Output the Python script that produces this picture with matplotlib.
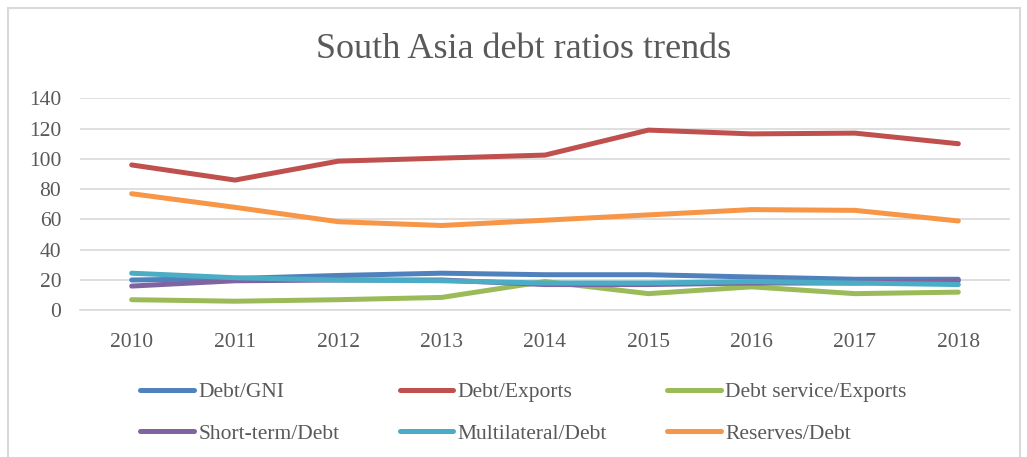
import matplotlib
matplotlib.use('Agg')
import matplotlib.pyplot as plt
from matplotlib.patches import Rectangle

# South Asia debt ratio series, 2010-2018
years = ['2010', '2011', '2012', '2013', '2014', '2015', '2016', '2017', '2018']
debt_gni = [20, 21, 23, 24.5, 23.5, 23.5, 22, 20.5, 20.5]
debt_exports = [96, 86, 98.5, 100.5, 102.5, 119, 116.5, 117, 110]
debt_service_exports = [7, 6, 7, 8.5, 19, 11, 15.5, 11, 12]
short_term_debt = [16, 19.5, 20, 20, 17, 17, 18, 18, 19.5]
multilateral_debt = [24.5, 21.5, 20, 19.5, 18, 18, 19, 18, 17]
reserves_debt = [77, 68, 58.5, 56, 59.5, 63, 66.5, 66, 59]

labels = ['Debt/GNI', 'Debt/Exports', 'Debt service/Exports',
          'Short-term/Debt', 'Multilateral/Debt', 'Reserves/Debt']
clrs = ['#4F81BD', '#C0504D', '#9BBB59', '#8064A2', '#4BACC6', '#F79646']
series = [debt_gni, debt_exports, debt_service_exports,
          short_term_debt, multilateral_debt, reserves_debt]

txtc = '#595959'
plt.rcParams['font.family'] = ['Liberation Serif', 'DejaVu Serif']

fig = plt.figure(figsize=(10.27, 4.57), dpi=100)

# light chart border
fig.patches.append(Rectangle((8/1027., -0.05), 1012/1027., 1 - 8/457. + 0.05,
                             transform=fig.transFigure, fill=False,
                             edgecolor='#d9d9d9', linewidth=1.5))

ax = fig.add_axes([80/1027., 146.7/457., 930/1027., 212/457.])
x = list(range(len(years)))
handles = []
for vals, lab, c in zip(series, labels, clrs):
    ln, = ax.plot(x, vals, color=c, lw=3.6, label=lab,
                  solid_capstyle='round', solid_joinstyle='round')
    handles.append(ln)

ax.set_xlim(-0.5, len(years) - 0.5)
ax.set_ylim(0, 140)
ax.set_yticks(range(0, 141, 20))
ax.set_xticks(x)
ax.set_xticklabels(years)
ax.grid(axis='y', color='#d9d9d9', lw=1.2)
ax.set_axisbelow(True)
for s in ['top', 'right', 'left']:
    ax.spines[s].set_visible(False)
ax.spines['bottom'].set_color('#d9d9d9')
ax.spines['bottom'].set_linewidth(1.2)
ax.tick_params(axis='y', length=0, pad=13.5, labelsize=15.5, labelcolor=txtc)
ax.tick_params(axis='x', length=0, pad=16, labelsize=15.5, labelcolor=txtc)

fig.text(524/1027., 1 - 57.7/457., 'South Asia debt ratios trends',
         ha='center', va='baseline', fontsize=26, color=txtc)

# legend order follows Excel's row-wise fill
order = [0, 3, 1, 4, 2, 5]
leg = fig.legend([handles[i] for i in order], [labels[i] for i in order],
                 loc='upper left', bbox_to_anchor=(140/1027., 1 - 382/457.),
                 ncol=3, frameon=False, fontsize=15.5, borderpad=0,
                 borderaxespad=0, handlelength=2.5, handletextpad=0.2,
                 columnspacing=2.8, labelspacing=1.0)
for t in leg.get_texts():
    t.set_color(txtc)

plt.savefig('out.png', dpi=100)
